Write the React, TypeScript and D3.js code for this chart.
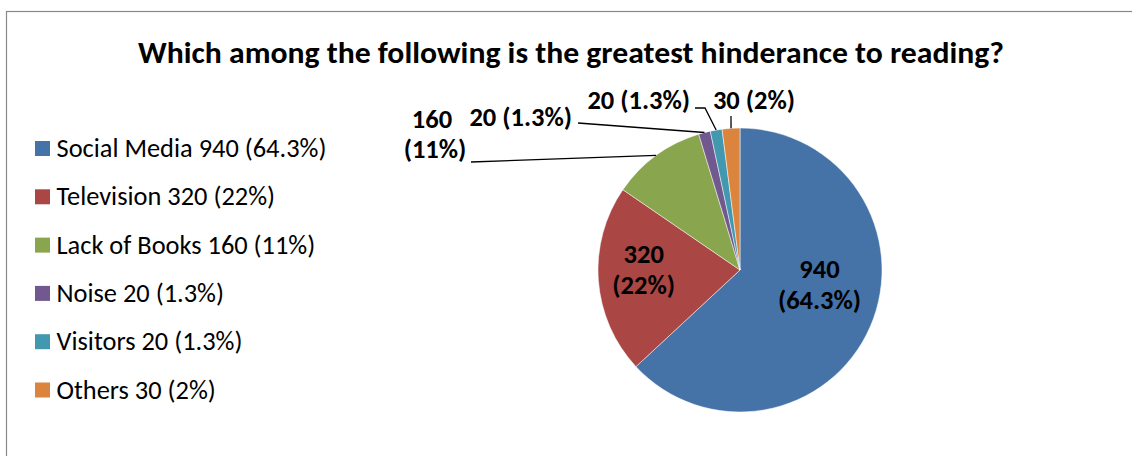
import React from "react";
import * as d3 from "d3";

const categories = ["Social Media", "Television", "Lack of Books", "Noise", "Visitors", "Others"];
const values = [940, 320, 160, 20, 20, 30];
const percentLabels = ["64.3%", "22%", "11%", "1.3%", "1.3%", "2%"];
const colors = ["#4572A7", "#AA4643", "#89A54E", "#71588F", "#4198AF", "#DB843D"];
const title = "Which among the following is the greatest hinderance to reading?";

const W = 1132;
const H = 456;
const FONT = "Carlito, Lato, 'Liberation Sans', sans-serif";
const LABEL_SIZE = 26.5;

export default function App() {
  const cx = 740;
  const cy = 270;
  const R = 142;

  const pie = d3.pie<number>().sort(null).startAngle(0).endAngle(2 * Math.PI);
  const arcs = pie(values);
  const arc = d3.arc<d3.PieArcDatum<number>>().innerRadius(0).outerRadius(R);
  const inLabelArc = d3.arc<d3.PieArcDatum<number>>().innerRadius(R * 0.68).outerRadius(R * 0.68);
  const edgeArc = d3.arc<d3.PieArcDatum<number>>().innerRadius(R).outerRadius(R);

  // inner label nudges (layout only)
  const innerNudge: Record<number, [number, number]> = { 0: [-9, -19], 1: [0, -2] };

  type Outside = { lines: { t: string; x: number; y: number; anchor: string }[]; path: [number, number][] };
  const outside: Record<number, Outside> = {
    2: {
      lines: [
        { t: `${values[2]}`, x: 432, y: 128, anchor: "middle" },
        { t: `(${percentLabels[2]})`, x: 435, y: 158, anchor: "middle" },
      ],
      path: [[471, 162]],
    },
    3: {
      lines: [{ t: `${values[3]} (${percentLabels[3]})`, x: 572, y: 126, anchor: "end" }],
      path: [[578, 123]],
    },
    4: {
      lines: [{ t: `${values[4]} (${percentLabels[4]})`, x: 690, y: 109, anchor: "end" }],
      path: [[695, 108], [705, 108]],
    },
    5: {
      lines: [{ t: `${values[5]} (${percentLabels[5]})`, x: 795, y: 109, anchor: "end" }],
      path: [[731, 116]],
    },
  };

  const legendY0 = 141;
  const legendStep = 48.3;

  return (
    <svg
      width={W}
      height={H}
      style={{ position: "absolute", left: 0, top: 0, background: "#fff" }}
      fontFamily={FONT}
    >
      <rect x={0} y={0} width={W} height={H} fill="#fff" />
      <rect x={6.5} y={11.5} width={1140} height={460} fill="none" stroke="#898989" strokeWidth={1.2} />
      <text x={571} y={63} textAnchor="middle" fontWeight="bold" fontSize={30} fill="#000" textLength={866} lengthAdjust="spacingAndGlyphs">
        {title}
      </text>

      {categories.map((c, i) => (
        <g key={c}>
          <rect x={35} y={legendY0 + i * legendStep} width={15} height={15} fill={colors[i]} />
          <text x={56.5} y={legendY0 + 16 + i * legendStep} fontSize={26.4} fill="#000">
            {`${c} ${values[i]} (${percentLabels[i]})`}
          </text>
        </g>
      ))}

      <g transform={`translate(${cx},${cy})`}>
        {arcs.map((a, i) => (
          <path key={i} d={arc(a) || ""} fill={colors[i]} stroke="#fff" strokeWidth={0.5} />
        ))}
      </g>

      {arcs.map((a, i) => {
        if (i > 1) return null;
        const [x, y] = inLabelArc.centroid(a);
        const [nx, ny] = innerNudge[i];
        const bx = cx + x + nx;
        const by = cy + y + ny;
        return (
          <g key={"in" + i}>
            <text x={bx} y={by - 12} textAnchor="middle" fontWeight="bold" fontSize={LABEL_SIZE} fill="#000">
              {values[i]}
            </text>
            <text x={bx} y={by + 19} textAnchor="middle" fontWeight="bold" fontSize={LABEL_SIZE} fill="#000">
              {`(${percentLabels[i]})`}
            </text>
          </g>
        );
      })}

      {arcs.map((a, i) => {
        const o = outside[i];
        if (!o) return null;
        const [ex, ey] = edgeArc.centroid(a);
        const pts: [number, number][] = [...o.path, [cx + ex, cy + ey]];
        return (
          <g key={"out" + i}>
            <path d={d3.line()(pts) || ""} fill="none" stroke="#000" strokeWidth={1.3} />
            {o.lines.map((l, k) => (
              <text key={k} x={l.x} y={l.y} textAnchor={l.anchor as any} fontWeight="bold" fontSize={LABEL_SIZE} fill="#000">
                {l.t}
              </text>
            ))}
          </g>
        );
      })}
    </svg>
  );
}
